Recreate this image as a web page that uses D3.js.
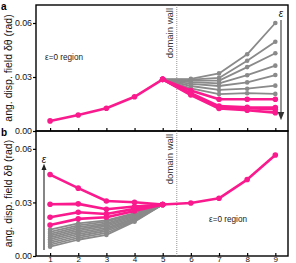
<!DOCTYPE html>
<html>
<head>
<meta charset="utf-8">
<script src="https://cdn.jsdelivr.net/npm/d3@7"></script>
<style>
  body { margin: 0; background: #fff; }
  svg { display: block; font-family: 'Liberation Sans', Arial, sans-serif; }
</style>
</head>
<body>
<div id="chart"></div>
<script>
// x positions (site index)
const sites = [1, 2, 3, 4, 5, 6, 7, 8, 9]
const yTicks = [0, 0.03, 0.06]

// panel a: common part (sites 1-5), then spread for sites 5-9
const aCommon = [0.0056, 0.0089, 0.0126, 0.019, 0.0287]
const aGray = [
  [0.0287, 0.029, 0.032, 0.0426, 0.060],
  [0.0287, 0.0285, 0.0295, 0.039, 0.0496],
  [0.0287, 0.028, 0.028, 0.0355, 0.0432],
  [0.0287, 0.0272, 0.0265, 0.031, 0.0363],
  [0.0287, 0.0262, 0.025, 0.027, 0.0311],
  [0.0287, 0.025, 0.0228, 0.0235, 0.0252],
  [0.0287, 0.0237, 0.0205, 0.021, 0.0206],
]
const aPink = [
  [0.0287, 0.0225, 0.0176, 0.0176, 0.0176],
  [0.0287, 0.021, 0.0138, 0.0132, 0.013],
  [0.0287, 0.0205, 0.0132, 0.0127, 0.0121],
  [0.0287, 0.02, 0.0125, 0.0115, 0.0102],
]

// panel b: spread for sites 1-5, common part for sites 5-9
const bCommon = [0.0288, 0.0297, 0.0323, 0.0428, 0.0566]
const bPink = [
  [0.0456, 0.038, 0.0308, 0.0301, 0.0288],
  [0.029, 0.0292, 0.0262, 0.0277, 0.0288],
  [0.0217, 0.0245, 0.0235, 0.0264, 0.0288],
  [0.0174, 0.0208, 0.0217, 0.0252, 0.0288],
]
const bGray = [
  [0.0148, 0.0183, 0.02, 0.024, 0.0288],
  [0.0135, 0.0172, 0.0192, 0.0235, 0.0288],
  [0.0124, 0.0162, 0.0183, 0.0229, 0.0288],
  [0.0114, 0.0152, 0.0175, 0.0223, 0.0288],
  [0.0104, 0.0142, 0.0167, 0.0217, 0.0288],
  [0.0094, 0.0132, 0.0158, 0.0211, 0.0288],
  [0.0084, 0.0122, 0.0149, 0.0205, 0.0288],
  [0.0074, 0.0112, 0.014, 0.02, 0.0288],
  [0.0063, 0.0101, 0.0129, 0.0196, 0.0288],
  [0.0052, 0.0091, 0.0118, 0.0192, 0.0288],
]

const pink = '#fa1a8e'
const gray = '#8a8a8a'
const W = 296, H = 263
const left = 36, right = 288

const svg = d3.select('#chart').append('svg').attr('width', W).attr('height', H)

const defs = svg.append('defs')
function marker(id, color) {
  defs.append('marker')
    .attr('id', id)
    .attr('viewBox', '0 0 10 10')
    .attr('refX', 5).attr('refY', 5)
    .attr('markerWidth', 6).attr('markerHeight', 6)
    .attr('orient', 'auto-start-reverse')
    .append('path')
    .attr('d', 'M0,1 L10,5 L0,9 z')
    .attr('fill', color)
}
marker('arrA', '#333')
marker('arrB', '#222')

const x = d3.scaleLinear().domain([0.5, 9.45]).range([left, right])

function panel(top, bottom, label, showXLabels) {
  const y = d3.scaleLinear().domain([0, 0.07]).range([bottom, top])
  const g = svg.append('g')

  // frame
  g.append('rect')
    .attr('x', left).attr('y', top)
    .attr('width', right - left).attr('height', bottom - top)
    .attr('fill', 'none').attr('stroke', '#000').attr('stroke-width', 1.4)

  // y axis
  const ya = g.append('g')
    .attr('transform', `translate(${left},0)`)
    .call(d3.axisLeft(y).tickValues(yTicks).tickFormat(d3.format('.2f')).tickSize(3).tickPadding(1))
  ya.select('.domain').remove()
  ya.selectAll('line').attr('stroke-width', 1.2)
  ya.selectAll('text').attr('font-size', 8.8).attr('fill', '#111')
    .attr('font-family', "'Liberation Sans', Arial, sans-serif")

  // x axis, ticks pointing into the plot
  const xa = g.append('g')
    .attr('transform', `translate(0,${bottom})`)
    .call(d3.axisBottom(x).tickValues(sites).tickSize(-3).tickPadding(0.5)
      .tickFormat(showXLabels ? d3.format('d') : ''))
  xa.select('.domain').remove()
  xa.selectAll('line').attr('stroke-width', 1.2)
  xa.selectAll('text').attr('font-size', 8).attr('fill', '#111')
    .attr('font-family', "'Liberation Sans', Arial, sans-serif")

  // domain wall
  g.append('line')
    .attr('x1', x(5.5)).attr('x2', x(5.5))
    .attr('y1', top).attr('y2', bottom)
    .attr('stroke', '#777').attr('stroke-width', 0.8)
    .attr('stroke-dasharray', '1,1')
  g.append('text')
    .attr('transform', `translate(${x(5.5) - 4},${top + 3}) rotate(-90)`)
    .attr('text-anchor', 'end')
    .attr('font-size', 9.5).attr('fill', '#333')
    .text('domain wall')

  // y label
  g.append('text')
    .attr('transform', `translate(12,${(top + bottom) / 2}) rotate(-90)`)
    .attr('text-anchor', 'middle')
    .attr('font-size', 10.5).attr('fill', '#111')
    .text('ang. disp. field δθ (rad)')

  // panel letter
  g.append('text')
    .attr('x', 1).attr('y', top + 5)
    .attr('font-size', 10).attr('font-weight', 'bold')
    .text(label)

  return { g, y }
}

function drawSeries(g, y, xs, vals, color, width) {
  const pts = xs.map((s, i) => [s, vals[i]])
  const line = d3.line().x((d) => x(d[0])).y((d) => y(d[1]))
  g.append('path')
    .datum(pts)
    .attr('d', line)
    .attr('fill', 'none')
    .attr('stroke', color)
    .attr('stroke-width', width)
    .attr('stroke-linejoin', 'round')
  g.selectAll(null)
    .data(pts)
    .enter()
    .append('circle')
    .attr('cx', (d) => x(d[0]))
    .attr('cy', (d) => y(d[1]))
    .attr('r', color === pink ? 2.8 : 2.3)
    .attr('fill', color)
}

// panel a
const A = panel(5, 131, 'a', false)
const rightSites = sites.slice(4)
const leftSites = sites.slice(0, 5)
aGray.forEach((v) => drawSeries(A.g, A.y, rightSites, v, gray, 1.8))
aPink.forEach((v) => drawSeries(A.g, A.y, rightSites, v, pink, 2.6))
drawSeries(A.g, A.y, leftSites, aCommon, pink, 2.6)

A.g.append('text')
  .attr('x', 45).attr('y', 60)
  .attr('font-size', 8.2).attr('fill', '#222')
  .text('ε=0 region')
A.g.append('line')
  .attr('x1', 281).attr('x2', 281)
  .attr('y1', 20).attr('y2', 116)
  .attr('stroke', '#666').attr('stroke-width', 1.4)
  .attr('marker-end', 'url(#arrA)')
A.g.append('text')
  .attr('x', 281).attr('y', 17)
  .attr('text-anchor', 'middle')
  .attr('font-size', 10).attr('font-style', 'italic').attr('fill', '#111')
  .text('ε')

// panel b
const B = panel(131, 256, 'b', true)
bGray.forEach((v) => drawSeries(B.g, B.y, leftSites, v, gray, 1.8))
bPink.forEach((v) => drawSeries(B.g, B.y, leftSites, v, pink, 2.6))
drawSeries(B.g, B.y, rightSites, bCommon, pink, 2.6)

B.g.append('text')
  .attr('x', 209).attr('y', 222)
  .attr('font-size', 8.2).attr('fill', '#222')
  .text('ε=0 region')
B.g.append('line')
  .attr('x1', 44).attr('x2', 44)
  .attr('y1', 250).attr('y2', 167)
  .attr('stroke', '#222').attr('stroke-width', 1.1)
  .attr('marker-end', 'url(#arrB)')
B.g.append('text')
  .attr('x', 44).attr('y', 163)
  .attr('text-anchor', 'middle')
  .attr('font-size', 10).attr('font-style', 'italic').attr('fill', '#111')
  .text('ε')
</script>
</body>
</html>
